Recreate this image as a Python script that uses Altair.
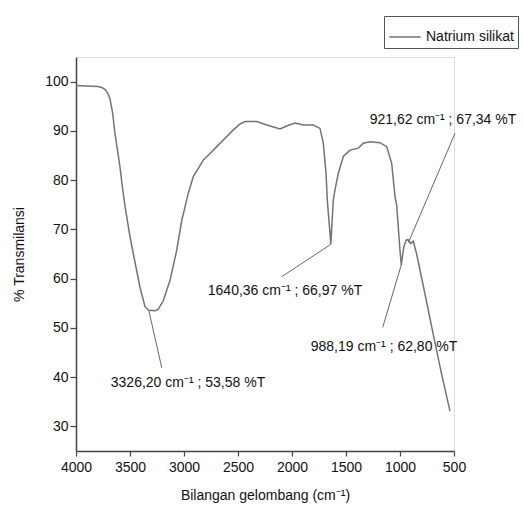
import altair as alt
import pandas as pd

# Spectrum (wavenumber cm-1, %T)
wavenumber = [4000, 3900, 3800, 3760, 3730, 3705, 3685, 3660, 3640, 3615, 3593, 3570, 3545,
              3500, 3469, 3407, 3361, 3326.2, 3269, 3238, 3192, 3130, 3068, 3021, 2990, 2960,
              2914, 2867, 2821, 2759, 2697, 2620, 2543, 2481, 2435, 2327, 2234, 2111, 2049,
              1972, 1895, 1802, 1741, 1710, 1685, 1673, 1648, 1640.36, 1618, 1602, 1571,
              1525, 1463, 1386, 1340, 1278, 1185, 1123, 1077, 1046, 1031, 1000, 988.19, 965,
              944, 926, 901, 877, 846, 784, 692, 614, 537]
transmittance = [99.2, 99.1, 99.0, 98.8, 98.4, 97.6, 96.5, 93.5, 89.6, 86.0, 82.7, 78.5, 74.5,
                 68.5, 65.0, 58.2, 54.3, 53.58, 53.5, 53.8, 55.5, 59.6, 65.7, 71.8, 74.6, 77.4,
                 80.7, 82.4, 84.1, 85.4, 86.8, 88.5, 90.2, 91.4, 91.9, 91.9, 91.2, 90.4, 91.0,
                 91.6, 91.2, 91.2, 90.5, 87.5, 81.4, 75.9, 69.2, 66.97, 75.9, 78.0, 81.4,
                 84.8, 86.1, 86.5, 87.5, 87.8, 87.6, 86.8, 83.4, 76.6, 75.0, 65.7, 62.80, 66.4,
                 67.8, 67.9, 67.1, 67.6, 65.0, 58.5, 48.7, 40.5, 33.1]
series_name = "Natrium silikat"

# Peak annotations
peak_wn = [3326.20, 1640.36, 988.19, 921.62]
peak_t = [53.58, 66.97, 62.80, 67.34]
leader_end_wn = [3206, 2095, 1160, 491]
leader_end_t = [41.9, 60.4, 50.1, 89.5]
label_wn = [2963, 2065, 1148, 602]
label_t = [38.8, 57.4, 46.2, 92.2]
labels = ["3326,20 cm\u207b\u00b9 ; 53,58 %T", "1640,36 cm\u207b\u00b9 ; 66,97 %T",
          "988,19 cm\u207b\u00b9 ; 62,80 %T", "921,62 cm\u207b\u00b9 ; 67,34 %T"]

x_ticks = list(range(500, 4001, 250))
y_ticks = list(range(30, 101, 10))

FONT = "Liberation Sans"

spec = pd.DataFrame({"wn": wavenumber, "t": transmittance, "series": series_name})
ann = pd.DataFrame({"wn": peak_wn, "t": peak_t, "wn2": leader_end_wn, "t2": leader_end_t,
                    "lx": label_wn, "ly": label_t, "label": labels})

xscale = alt.Scale(domain=[500, 4000], reverse=True, nice=False, zero=False)
yscale = alt.Scale(domain=[25, 105], nice=False, zero=False)

xaxis = alt.Axis(
    values=x_ticks, format="d",
    labelExpr="datum.value % 500 == 0 ? datum.label : ''",
    tickSize={"condition": {"test": "datum.value % 500 == 0", "value": 5}, "value": 3},
    labelFont=FONT, labelFontSize=14, labelColor="#111", labelPadding=4,
    labelOverlap=False,
    title="Bilangan gelombang (cm\u207b\u00b9)", titleFont=FONT, titleFontSize=14,
    titleFontWeight="normal", titleColor="#111", titlePadding=14,
    grid=False, domainColor="#444", domainWidth=1.5, tickColor="#444", tickWidth=1.2,
    labelFlush=False,
)
yaxis = alt.Axis(
    values=y_ticks, format="d", tickSize=6,
    labelFont=FONT, labelFontSize=14, labelColor="#111", labelPadding=2,
    labelOverlap=False,
    title="% Transmilansi", titleFont=FONT, titleFontSize=14,
    titleFontWeight="normal", titleColor="#111", titlePadding=18,
    grid=False, domainColor="#444", domainWidth=1.5, tickColor="#444", tickWidth=1.2,
    labelFlush=False,
)

line = alt.Chart(spec).mark_line(strokeWidth=1.5).encode(
    x=alt.X("wn:Q", scale=xscale, axis=xaxis),
    y=alt.Y("t:Q", scale=yscale, axis=yaxis),
    color=alt.Color("series:N", scale=alt.Scale(range=["#737373"]),
                    legend=alt.Legend(title=None, orient="none", legendX=308, legendY=-41,
                                      strokeColor="#555", fillColor="white", padding=4,
                                      symbolType="stroke", symbolSize=1000,
                                      symbolStrokeWidth=1.5, labelFont=FONT,
                                      labelFontSize=14, labelColor="#111",
                                      labelOffset=4)),
)

rules = alt.Chart(ann).mark_rule(color="#666", strokeWidth=1).encode(
    x="wn:Q", y="t:Q", x2="wn2:Q", y2="t2:Q"
)

texts = alt.Chart(ann).mark_text(font=FONT, fontSize=14, color="#111",
                                 align="center", baseline="middle").encode(
    x="lx:Q", y="ly:Q", text="label:N"
)

chart = alt.layer(line, rules, texts).properties(
    width=378, height=394,
    autosize=alt.AutoSizeParams(type="none"),
    padding={"left": 76, "top": 57, "right": 70, "bottom": 57},
).configure_view(stroke=None).configure(background="white")

chart.save("out.html", embed_options={"renderer": "svg", "actions": False})
